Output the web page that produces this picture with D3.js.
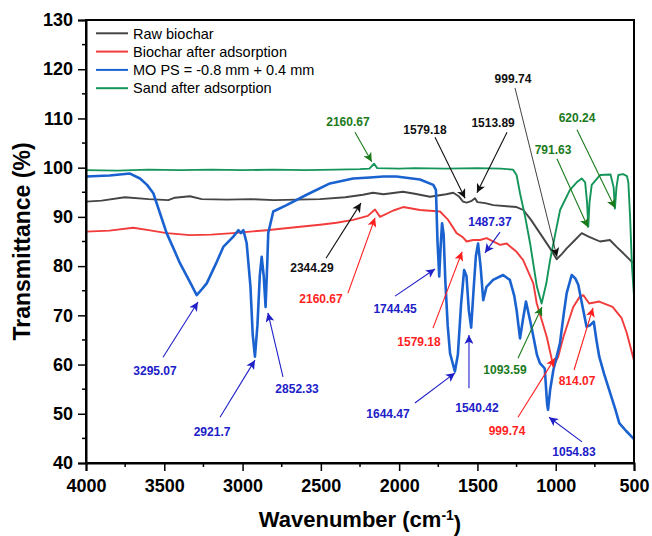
<!DOCTYPE html>
<html lang="en">
<head>
<meta charset="UTF-8">
<title>FTIR spectra</title>
<script src="https://d3js.org/d3.v7.min.js"></script>
<style>
  body { margin: 0; background: #fff; }
  text { font-family: Arial, "Liberation Sans", sans-serif; }
</style>
</head>
<body>
<div id="chart"></div>
<script>
// series names and colours
var seriesNames = ["Raw biochar", "Biochar after adsorption", "MO PS = -0.8 mm + 0.4 mm", "Sand after adsorption"];
var seriesColors = ["#454545", "#f23b3b", "#1a62cf", "#14955a"];

// Raw biochar
var rawWave = [4000, 3900, 3752, 3600, 3474, 3433, 3336, 3261, 3100, 2942, 2800, 2650, 2505, 2344, 2231, 2167, 2100, 1976, 1900, 1803, 1700, 1654, 1620, 1592, 1569, 1540, 1516, 1500, 1450, 1399, 1293, 1250, 1207, 1160, 1101, 1036, 994, 960, 930, 880, 834, 790, 760, 717, 654, 611, 568, 515, 500];
var rawT    = [93.1, 93.3, 94.0, 93.6, 93.4, 93.9, 94.2, 93.6, 93.5, 93.6, 93.4, 93.5, 93.6, 94.0, 94.5, 94.9, 94.6, 95.1, 94.7, 94.1, 94.6, 94.9, 94.2, 93.1, 92.9, 93.2, 93.8, 93.0, 92.8, 92.4, 92.1, 92.0, 91.4, 89.5, 86.7, 83.6, 81.4, 82.5, 83.6, 85.2, 86.7, 86.0, 85.6, 85.0, 85.3, 83.9, 82.6, 80.9, 80.6];

// Biochar after adsorption
var bioWave = [4000, 3850, 3698, 3600, 3485, 3336, 3200, 3061, 2846, 2633, 2505, 2400, 2294, 2200, 2154, 2122, 2037, 1974, 1867, 1739, 1690, 1633, 1591, 1569, 1527, 1483, 1442, 1355, 1314, 1250, 1208, 1143, 1121, 1057, 1015, 985, 951, 888, 846, 824, 786, 722, 637, 580, 546, 504, 500];
var bioT    = [87.0, 87.2, 87.8, 87.3, 86.7, 86.3, 86.4, 86.7, 87.3, 88.0, 88.4, 88.8, 89.4, 90.2, 91.5, 90.0, 91.3, 92.0, 91.4, 91.1, 89.5, 86.7, 85.8, 85.0, 85.3, 85.3, 85.7, 84.3, 84.6, 82.9, 81.2, 76.5, 72.4, 65.6, 59.6, 61.5, 65.6, 71.7, 73.8, 74.1, 72.4, 72.8, 71.7, 69.5, 66.4, 61.3, 60.8];

// MO PS = -0.8 mm + 0.4 mm
var moWave = [4000, 3850, 3719, 3655, 3610, 3570, 3530, 3485, 3440, 3400, 3340, 3293, 3260, 3229, 3170, 3123, 3059, 3027, 3010, 2995, 2974, 2950, 2935, 2921, 2905, 2890, 2878, 2865, 2853, 2843, 2836, 2804, 2719, 2591, 2442, 2294, 2186, 2100, 2017, 1867, 1782, 1765, 1755, 1744, 1735, 1726, 1716, 1705, 1690, 1675, 1644, 1625, 1605, 1585, 1570, 1555, 1540, 1525, 1510, 1496, 1480, 1463, 1442, 1400, 1336, 1293, 1265, 1250, 1228, 1210, 1190, 1155, 1120, 1101, 1070, 1055, 1049, 1035, 1015, 973, 950, 930, 898, 875, 856, 830, 803, 780, 757, 740, 722, 690, 658, 620, 594, 550, 504, 500];
var moT    = [98.2, 98.4, 98.8, 97.8, 96.5, 94.8, 91.0, 86.7, 83.5, 80.6, 77.0, 74.1, 75.3, 76.5, 80.5, 83.9, 86.0, 87.3, 86.7, 87.3, 84.7, 76.0, 66.0, 61.6, 68.0, 78.0, 81.9, 78.0, 71.7, 80.0, 86.7, 91.1, 92.4, 94.5, 96.8, 97.8, 98.0, 98.2, 98.2, 97.6, 96.5, 95.5, 85.0, 77.9, 84.0, 88.7, 86.5, 77.0, 68.0, 62.3, 58.6, 62.0, 72.0, 79.2, 78.0, 71.0, 67.5, 75.0, 82.0, 84.6, 80.0, 73.1, 75.8, 77.2, 78.2, 77.2, 74.0, 71.1, 65.3, 69.0, 72.8, 67.7, 62.0, 60.3, 59.2, 52.0, 50.8, 55.0, 58.9, 64.3, 70.0, 74.5, 78.2, 77.5, 76.2, 72.0, 67.7, 68.0, 68.7, 65.0, 61.6, 58.0, 54.8, 51.0, 48.1, 46.5, 45.0, 44.8];

// Sand after adsorption
var sandWave = [4000, 3800, 3600, 3400, 3200, 3000, 2800, 2600, 2400, 2250, 2190, 2160, 2140, 2000, 1900, 1700, 1500, 1350, 1273, 1250, 1228, 1195, 1164, 1120, 1090, 1060, 1036, 1000, 972, 909, 860, 834, 812, 800, 792, 784, 770, 717, 650, 630, 622, 612, 600, 570, 545, 536, 525, 513, 500];
var sandT    = [99.5, 99.4, 99.6, 99.5, 99.6, 99.5, 99.6, 99.5, 99.6, 99.7, 99.8, 100.8, 99.9, 99.8, 99.9, 99.8, 99.9, 99.8, 99.6, 98.5, 94.8, 90.0, 84.7, 75.8, 72.4, 76.5, 81.2, 87.0, 91.4, 95.5, 97.2, 97.8, 97.0, 93.0, 88.0, 93.0, 96.5, 98.5, 98.6, 96.0, 91.7, 96.0, 98.5, 98.7, 98.3, 97.0, 90.0, 80.0, 74.0];

var seriesWave = [rawWave, bioWave, moWave, sandWave];
var seriesT = [rawT, bioT, moT, sandT];

// axis ticks
var xTicks = [4000, 3500, 3000, 2500, 2000, 1500, 1000, 500];
var yTicks = [40, 50, 60, 70, 80, 90, 100, 110, 120, 130];

// peak annotations: text, colour index, label [wave, T], tail [wave, T], tip [wave, T]
var annText  = ["2160.67", "1579.18", "1513.89", "999.74", "620.24", "791.63", "2344.29", "2160.67", "1744.45", "1579.18", "1487.37", "1644.47", "1540.42", "1093.59", "999.74", "814.07", "1054.83", "3295.07", "2921.7", "2852.33"];
var annColor = ["g", "k", "k", "k", "g", "g", "k", "r", "b", "r", "b", "b", "b", "g", "r", "r", "b", "b", "b", "b"];
var annLabel = [[2327, 109.3], [1835, 107.7], [1400, 109.1], [1273, 118.0], [864, 110.1], [1017, 103.6], [2557, 79.6], [2499, 73.3], [2026, 71.3], [1873, 64.6], [1420, 89.0], [2071, 50.0], [1503, 51.2], [1324, 58.9], [1311, 46.5], [864, 56.7], [883, 42.2], [3559, 58.7], [3195, 46.3], [2652, 55.0]];
var annTail  = [[2282, 107.2], [1771, 106.2], [1311, 107.2], [1260, 116.2], [864, 107.7], [992, 101.8], [2467, 81.6], [2327, 74.5], [2026, 73.9], [1784, 67.4], [1356, 86.9], [1899, 52.2], [1554, 55.2], [1241, 61.3], [1241, 49.3], [883, 58.9], [832, 44.3], [3508, 61.5], [3144, 49.3], [2742, 57.5]];
var annTip   = [[2175, 101.2], [1579, 93.8], [1503, 94.9], [992, 81.9], [621, 91.8], [794, 87.9], [2244, 92.8], [2154, 89.8], [1771, 79.4], [1598, 82.9], [1452, 82.7], [1643, 58.3], [1554, 66.0], [1088, 71.7], [1005, 61.3], [762, 71.5], [1043, 49.3], [3285, 72.7], [2921, 60.9], [2838, 70.5]];
var annPalette = { k: "#111111", r: "#ff1f1f", b: "#2020c8", g: "#1b7a1b" };

var W = 652, H = 536;
var margin = { top: 20, right: 18, bottom: 73, left: 86 };

var svg = d3.select("#chart").append("svg")
  .attr("width", W).attr("height", H);

var x = d3.scaleLinear().domain([4000, 500]).range([margin.left, W - margin.right]);
var y = d3.scaleLinear().domain([40, 130]).range([H - margin.bottom, margin.top]);

// arrow heads
var defs = svg.append("defs");
Object.keys(annPalette).forEach(function(k) {
  defs.append("marker")
    .attr("id", "arr-" + k)
    .attr("viewBox", "0 0 10 10")
    .attr("refX", 10).attr("refY", 5)
    .attr("markerUnits", "userSpaceOnUse")
    .attr("markerWidth", 10).attr("markerHeight", 9)
    .attr("orient", "auto")
    .append("path")
    .attr("d", "M0,0 L10,5 L0,10 L2.5,5 Z")
    .attr("fill", annPalette[k]);
});

// series lines
var line = d3.line()
  .x(function(d) { return x(d[0]); })
  .y(function(d) { return y(d[1]); });

svg.append("clipPath").attr("id", "clip")
  .append("rect")
  .attr("x", margin.left).attr("y", margin.top)
  .attr("width", W - margin.left - margin.right)
  .attr("height", H - margin.top - margin.bottom);

var plot = svg.append("g").attr("clip-path", "url(#clip)");
[0, 1, 3, 2].forEach(function(i) {
  var pts = seriesWave[i].map(function(w, j) { return [w, seriesT[i][j]]; });
  plot.append("path")
    .datum(pts)
    .attr("fill", "none")
    .attr("stroke", seriesColors[i])
    .attr("stroke-width", i === 2 ? 2.6 : 1.9)
    .attr("stroke-linejoin", "round")
    .attr("d", line);
});

// annotations
annText.forEach(function(t, i) {
  var c = annPalette[annColor[i]];
  svg.append("line")
    .attr("x1", x(annTail[i][0])).attr("y1", y(annTail[i][1]))
    .attr("x2", x(annTip[i][0])).attr("y2", y(annTip[i][1]))
    .attr("stroke", c)
    .attr("stroke-width", t === "999.74" && annColor[i] === "k" ? 0.8 : 1.1)
    .attr("marker-end", "url(#arr-" + annColor[i] + ")");
  svg.append("text")
    .attr("x", x(annLabel[i][0])).attr("y", y(annLabel[i][1]))
    .attr("dy", "0.36em")
    .attr("text-anchor", "middle")
    .attr("font-size", "12px")
    .attr("font-weight", "bold")
    .attr("fill", c)
    .text(t);
});

// axes
var xAxis = svg.append("g")
  .attr("transform", "translate(0," + (H - margin.bottom) + ")")
  .call(d3.axisBottom(x).tickValues(xTicks).tickSize(8).tickPadding(8).tickFormat(d3.format("d")));
xAxis.selectAll("text").attr("font-size", "18px").attr("font-weight", "bold").attr("fill", "#000");

var yAxis = svg.append("g")
  .attr("transform", "translate(" + margin.left + ",0)")
  .call(d3.axisLeft(y).tickValues(yTicks).tickSize(8).tickPadding(5));
yAxis.selectAll("text").attr("font-size", "18px").attr("font-weight", "bold").attr("fill", "#000");

// minor ticks
var xMinor = d3.range(3750, 500, -500);
svg.append("g").selectAll("line").data(xMinor).join("line")
  .attr("x1", function(d) { return x(d); }).attr("x2", function(d) { return x(d); })
  .attr("y1", H - margin.bottom).attr("y2", H - margin.bottom + 4)
  .attr("stroke", "#000").attr("stroke-width", 1.5);
var yMinor = d3.range(45, 130, 10);
svg.append("g").selectAll("line").data(yMinor).join("line")
  .attr("y1", function(d) { return y(d); }).attr("y2", function(d) { return y(d); })
  .attr("x1", margin.left - 4).attr("x2", margin.left)
  .attr("stroke", "#000").attr("stroke-width", 1.5);

svg.selectAll(".domain").attr("stroke", "#000").attr("stroke-width", 2);
svg.selectAll(".tick line").attr("stroke", "#000").attr("stroke-width", 1.5);

// frame
svg.append("rect")
  .attr("x", margin.left).attr("y", margin.top)
  .attr("width", W - margin.left - margin.right)
  .attr("height", H - margin.top - margin.bottom)
  .attr("fill", "none").attr("stroke", "#000").attr("stroke-width", 2);

// axis titles
var xt = svg.append("text")
  .attr("x", (margin.left + W - margin.right) / 2)
  .attr("y", 527)
  .attr("text-anchor", "middle")
  .attr("font-size", "22px").attr("font-weight", "bold");
xt.append("tspan").text("Wavenumber (cm");
xt.append("tspan").attr("dy", "-0.5em").attr("font-size", "14px").text("-1");
xt.append("tspan").attr("dy", "0.5em").text(")");

svg.append("text")
  .attr("transform", "translate(30," + ((margin.top + H - margin.bottom) / 2) + ") rotate(-90)")
  .attr("text-anchor", "middle")
  .attr("font-size", "23px").attr("font-weight", "bold")
  .text("Transmittance (%)");

// legend
var legend = svg.append("g");
seriesNames.forEach(function(n, i) {
  var ly = 33.3 + i * 18.3;
  legend.append("line")
    .attr("x1", 96).attr("x2", 128).attr("y1", ly).attr("y2", ly)
    .attr("stroke", seriesColors[i]).attr("stroke-width", 2);
  legend.append("text")
    .attr("x", 133).attr("y", ly).attr("dy", "0.36em")
    .attr("font-size", "14.5px").attr("fill", "#000")
    .text(n);
});
</script>
</body>
</html>
